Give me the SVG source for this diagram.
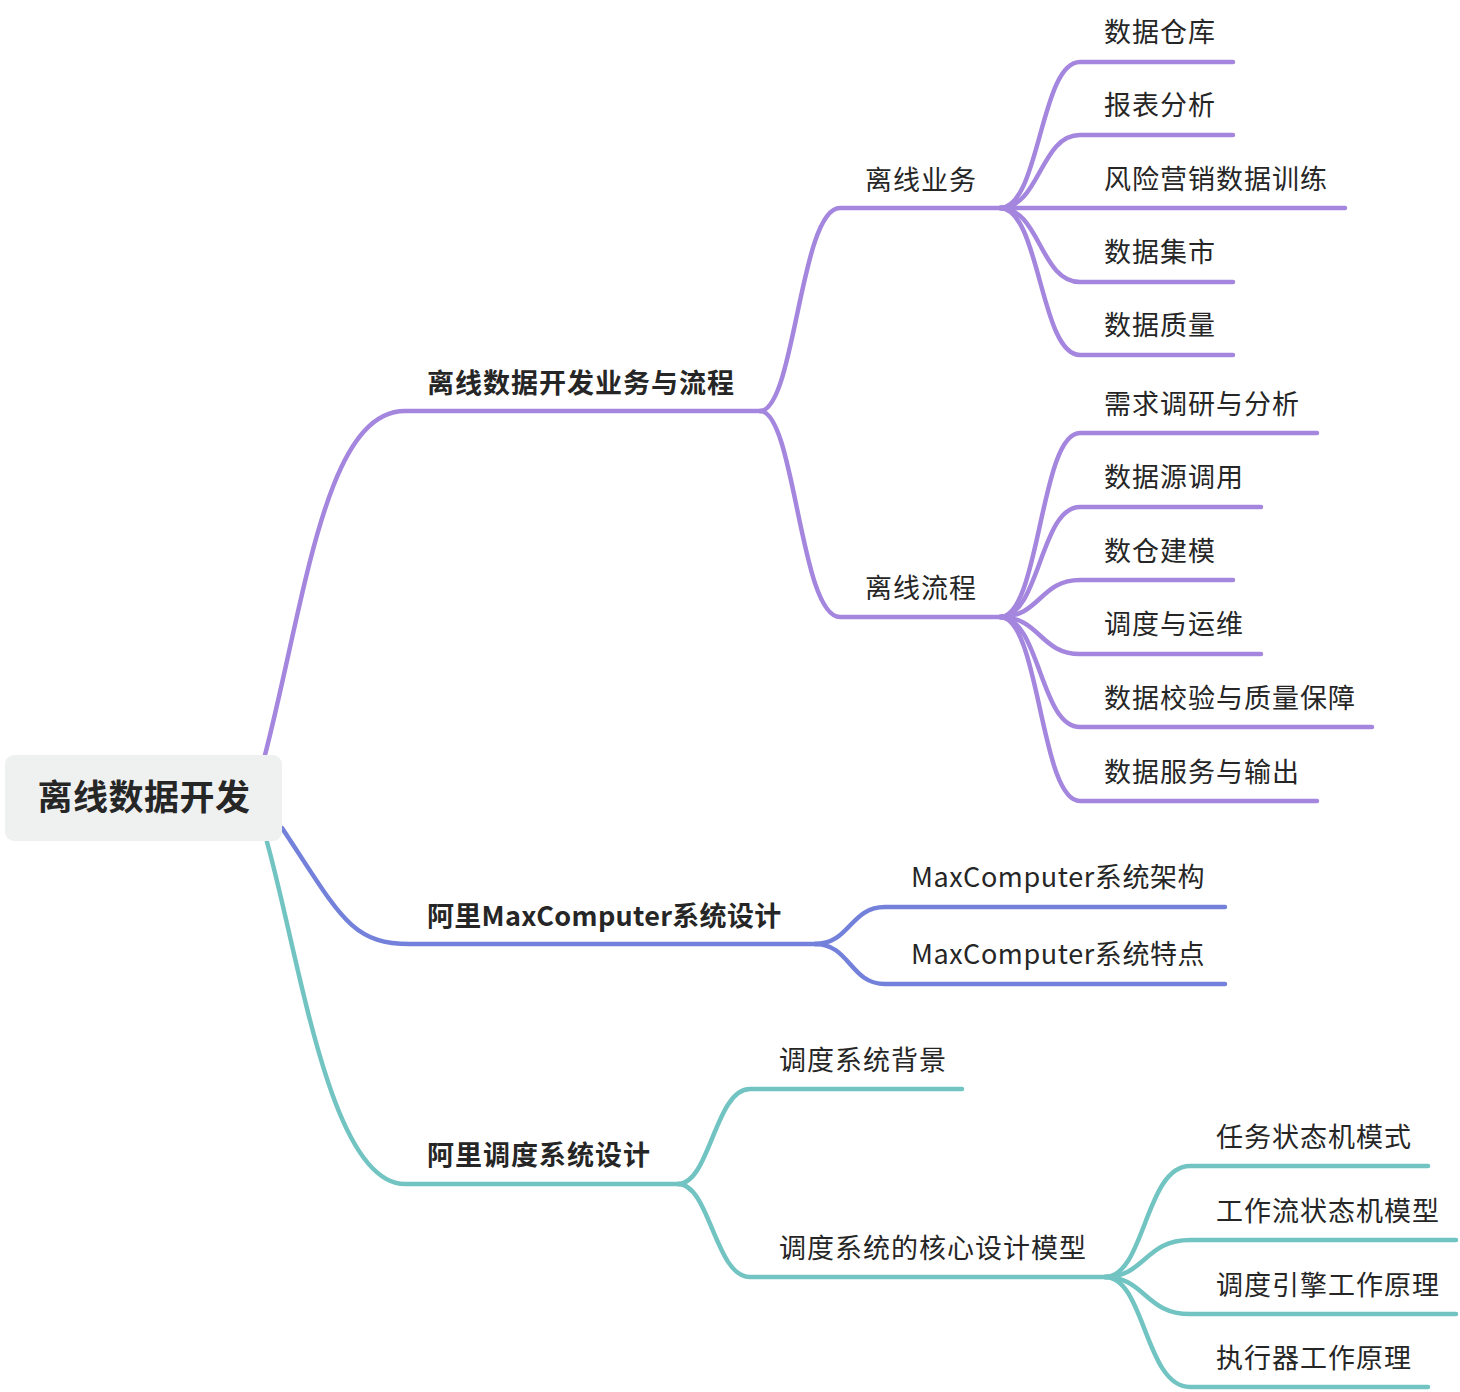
<svg xmlns="http://www.w3.org/2000/svg" width="1460" height="1392" viewBox="0 0 1460 1392">
<style>
.t{font-family:"Noto Sans CJK SC","Noto Sans",sans-serif;font-size:27px;fill:#262626;letter-spacing:1px}
.m{letter-spacing:0.6px}
.b{font-weight:bold}
.mb{letter-spacing:0.3px}
.r{font-family:"Noto Sans CJK SC","Noto Sans",sans-serif;font-size:35px;font-weight:bold;fill:#262626;letter-spacing:0.5px}
.c{fill:none;stroke-width:4.5;stroke-linecap:round;stroke-linejoin:round}
.p{stroke:#a486de}
.u{stroke:#7381da}
.g{stroke:#72c4c2}
</style>
<rect width="1460" height="1392" fill="#ffffff"/>
<g id="connectors">
<path class="c p" d="M265,755 C305,600 325,411 405,411 L762,411"/>
<path class="c p" d="M760,411 C795,411 800,208 840,208 L1005,208"/>
<path class="c p" d="M760,411 C795,411 800,617 840,617 L1005,617"/>
<path class="c p" d="M1000,208 C1040,208 1040,62 1080,62 L1233,62"/>
<path class="c p" d="M1000,208 C1040,208 1040,135 1080,135 L1233,135"/>
<path class="c p" d="M1000,208 L1345,208"/>
<path class="c p" d="M1000,208 C1040,208 1040,282 1080,282 L1233,282"/>
<path class="c p" d="M1000,208 C1040,208 1040,355 1080,355 L1233,355"/>
<path class="c p" d="M1000,617 C1040,617 1040,433 1080,433 L1317,433"/>
<path class="c p" d="M1000,617 C1040,617 1040,507 1080,507 L1261,507"/>
<path class="c p" d="M1000,617 C1040,617 1040,580 1080,580 L1233,580"/>
<path class="c p" d="M1000,617 C1040,617 1040,654 1080,654 L1261,654"/>
<path class="c p" d="M1000,617 C1040,617 1040,727 1080,727 L1372,727"/>
<path class="c p" d="M1000,617 C1040,617 1040,801 1080,801 L1317,801"/>
<path class="c u" d="M282,828 C340,915 350,944 410,944 L820,944"/>
<path class="c u" d="M815,944 C850,944 850,907 885,907 L1225,907"/>
<path class="c u" d="M815,944 C850,944 850,984 885,984 L1225,984"/>
<path class="c g" d="M267,842 C300,960 330,1184 405,1184 L680,1184"/>
<path class="c g" d="M678,1184 C710,1184 715,1089 750,1089 L962,1089"/>
<path class="c g" d="M678,1184 C710,1184 715,1277 750,1277 L1110,1277"/>
<path class="c g" d="M1105,1277 C1145,1277 1145,1166 1190,1166 L1428,1166"/>
<path class="c g" d="M1105,1277 C1145,1277 1145,1240 1190,1240 L1456,1240"/>
<path class="c g" d="M1105,1277 C1145,1277 1145,1314 1190,1314 L1456,1314"/>
<path class="c g" d="M1105,1277 C1145,1277 1145,1387 1190,1387 L1428,1387"/>
</g>
<g id="root">
<rect x="5" y="755" width="277" height="86" rx="9" fill="#eff0f0"/>
<text class="r" x="144" y="810" text-anchor="middle">离线数据开发</text>
</g>
<g id="n1"><text class="t b" x="427" y="393">离线数据开发业务与流程</text></g>
<g id="n1a"><text class="t" x="865" y="190">离线业务</text></g>
<g id="n1a1"><text class="t" x="1104" y="42">数据仓库</text></g>
<g id="n1a2"><text class="t" x="1104" y="115">报表分析</text></g>
<g id="n1a3"><text class="t" x="1104" y="189">风险营销数据训练</text></g>
<g id="n1a4"><text class="t" x="1104" y="262">数据集市</text></g>
<g id="n1a5"><text class="t" x="1104" y="335">数据质量</text></g>
<g id="n1b"><text class="t" x="865" y="598">离线流程</text></g>
<g id="n1b1"><text class="t" x="1104" y="414">需求调研与分析</text></g>
<g id="n1b2"><text class="t" x="1104" y="487">数据源调用</text></g>
<g id="n1b3"><text class="t" x="1104" y="561">数仓建模</text></g>
<g id="n1b4"><text class="t" x="1104" y="634">调度与运维</text></g>
<g id="n1b5"><text class="t" x="1104" y="708">数据校验与质量保障</text></g>
<g id="n1b6"><text class="t" x="1104" y="782">数据服务与输出</text></g>
<g id="n2"><text class="t b mb" x="427" y="926">阿里MaxComputer系统设计</text></g>
<g id="n2a"><text class="t m" x="911" y="887">MaxComputer系统架构</text></g>
<g id="n2b"><text class="t m" x="911" y="964">MaxComputer系统特点</text></g>
<g id="n3"><text class="t b" x="427" y="1165">阿里调度系统设计</text></g>
<g id="n3a"><text class="t" x="779" y="1070">调度系统背景</text></g>
<g id="n3b"><text class="t" x="779" y="1258">调度系统的核心设计模型</text></g>
<g id="n3b1"><text class="t" x="1216" y="1147">任务状态机模式</text></g>
<g id="n3b2"><text class="t" x="1216" y="1221">工作流状态机模型</text></g>
<g id="n3b3"><text class="t" x="1216" y="1295">调度引擎工作原理</text></g>
<g id="n3b4"><text class="t" x="1216" y="1368">执行器工作原理</text></g>
</svg>
